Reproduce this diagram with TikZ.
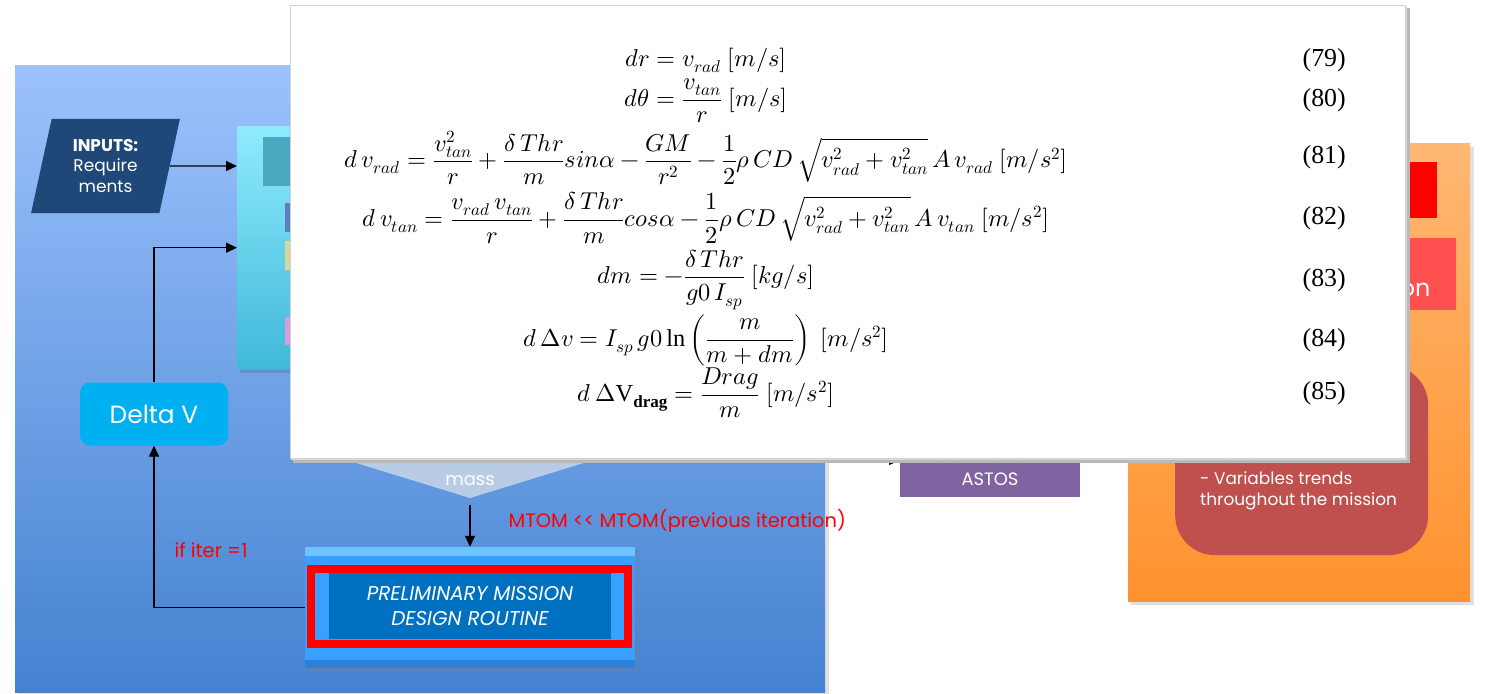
\documentclass[tikz,border=0pt]{standalone}
\usepackage{fontspec}
\usepackage{amsmath}
\usepackage{unicode-math}
\setmainfont{Poppins}
\setmathrm{Liberation Serif}
\newfontfamily\eqnumfont{Liberation Serif}
\usetikzlibrary{arrows.meta, positioning, shapes.geometric, shadows}
\definecolor{paneltop}{RGB}{156,194,253}
\definecolor{panelbot}{RGB}{68,130,208}
\definecolor{cyantop}{RGB}{143,235,252}
\definecolor{cyanbot}{RGB}{64,184,217}
\definecolor{navyin}{RGB}{31,71,120}
\definecolor{deltablue}{RGB}{0,176,240}
\definecolor{funnelgray}{RGB}{184,204,230}
\definecolor{pmdrlight}{RGB}{58,160,255}
\definecolor{pmdrdark}{RGB}{0,112,192}
\definecolor{astospurple}{RGB}{128,100,162}
\definecolor{orangetop}{RGB}{255,184,115}
\definecolor{orangebot}{RGB}{255,146,46}
\definecolor{coral}{RGB}{255,80,80}
\definecolor{brickred}{RGB}{192,80,77}

\tikzset{
  flowarrow/.style={draw=black, line width=1.4bp, -{Triangle[length=11bp,width=10bp]}},
  boxtext/.style={text=white, align=center, font=\fontsize{18}{22}\selectfont},
  redlabel/.style={text=red, font=\fontsize{19.5}{24}\selectfont},
  eqline/.style={anchor=center, inner sep=0pt, font=\fontsize{24.5}{28}\selectfont},
  eqnum/.style={anchor=east, inner sep=0pt, font=\eqnumfont\fontsize{26}{30}\selectfont},
  softshadow/.style={fill=black, opacity=0.12}
}

\begin{document}
\begin{tikzpicture}[x=1bp, y=-1bp]
\useasboundingbox (0,0) rectangle (1486,694);
\fill[white] (0,0) rectangle (1486,694);

% Left panel
\fill[softshadow] (18,70) rectangle (829,695);
\shade[top color=paneltop, bottom color=panelbot] (15,66) rectangle (825,692);

% Sizing block (mostly hidden)
\fill[softshadow] (240,130) rectangle (704,373);
\node[anchor=north west, minimum width=463bp, minimum height=243bp, inner sep=0pt,
      top color=cyantop, bottom color=cyanbot] (sizing) at (237,126) {};
\fill[fill={rgb,255:red,74;green,168;blue,192}] (263,137) rectangle (420,186);
\fill[fill={rgb,255:red,91;green,127;blue,191}] (285,203) rectangle (420,232);
\fill[fill={rgb,255:red,216;green,216;blue,150}] (285,241) rectangle (420,270);
\fill[fill={rgb,255:red,216;green,156;blue,216}] (285,317) rectangle (420,345);

% Inputs
\node[trapezium, trapezium left angle=77, trapezium right angle=103, trapezium stretches=true,
      fill=navyin, minimum width=149bp, minimum height=94bp, inner sep=0pt, boxtext,
      font=\fontsize{17}{21}\selectfont] (inputs) at (105.5,166)
  {\textbf{INPUTS:}\\Require\\ments};
\draw[flowarrow] (inputs) -- (inputs -| sizing.west);

% Delta V
\node[rounded corners=10bp, fill=deltablue, minimum width=148bp, minimum height=63bp,
      text=white, font=\fontsize{25}{30}\selectfont] (deltav) at (154,414) {Delta V};
\draw[flowarrow] (deltav.north) |- (sizing.west);

% Funnel (mostly hidden)
\fill[funnelgray] (298,445) -- (642,445) -- (470,498) -- cycle;
\coordinate (funnel) at (470,505);
\node[boxtext] (masstext) at (470,468) {the total\\mass};

% Preliminary mission design routine
\node[fill=pmdrlight, minimum width=330bp, minimum height=121bp, inner sep=0pt,
      drop shadow={opacity=0.3}] (pmdr) at (470,607.5) {};
\fill[fill={rgb,255:red,110;green,196;blue,255}] (305,547) rectangle (635,556);
\fill[fill={rgb,255:red,40;green,130;blue,220}] (305,660) rectangle (635,668);
\draw[red, line width=8bp] (311,569) rectangle (628,644);
\node[fill=pmdrdark, minimum width=282bp, minimum height=66bp, inner sep=0pt, boxtext,
      font=\fontsize{20}{26}\selectfont\itshape] (pmdrtext) at (470,606)
  {PRELIMINARY MISSION\\DESIGN ROUTINE};

\draw[flowarrow] (funnel) -- (pmdr.north);
\draw[flowarrow] (pmdr.west) -| (deltav.south);
\node[redlabel] (iterlabel) at (211,550) {if iter =1};
\node[redlabel, anchor=west] (mtomlabel) at (505,521) {MTOM <{}< MTOM(previous iteration)};

% ASTOS box (mostly hidden)
\node[anchor=south west, fill=astospurple, minimum width=180bp, minimum height=100bp,
      inner sep=0pt] (astos) at (900,497) {};
\node[boxtext] (astostext) at (990,468) {GO INPUTS IN\\ASTOS};
\coordinate (astosin) at (872,460);
\draw[flowarrow] (astosin) -- (astosin -| astos.west);

% Outputs panel
\fill[softshadow] (1131,147) rectangle (1474,605);
\shade[top color=orangetop, bottom color=orangebot] (1128,143) rectangle (1470,601);
\fill[red] (1200,162) rectangle (1437,218);
\fill[coral] (1200,238) rectangle (1456,310);
\node[anchor=east, text=white, font=\fontsize{24}{28}\selectfont] (simtext) at (1434,290) {on};
\node[anchor=north west, fill=brickred, rounded corners=40bp, minimum width=253bp,
      minimum height=190bp, inner sep=0pt] (results) at (1175,365) {};
\node[anchor=north west, text=white, align=left, inner sep=0pt,
      font=\fontsize{17}{21}\selectfont] (resultstext) at (1200,451)
  {- Delta V\\- Variables trends\\throughout the mission};

% Equations
\fill[fill=gray!55] (293,8) rectangle (1410,463);
\fill[fill=gray!30] (291,6) rectangle (1407,460);
\node[anchor=north west, fill=white, draw=gray!35, line width=0.6bp, minimum width=1115bp,
      minimum height=453bp, inner sep=0pt] (eqbox) at (290,5) {};

\node[eqline] (eq79) at (706,60) {$dr = v_{rad}\ [m/s]$};
\node[eqline] (eq80) at (706,101) {$d\theta = \dfrac{v_{tan}}{r}\ [m/s]$};
\node[eqline] (eq81) at (706,158)
  {$d\,v_{rad} = \dfrac{v_{tan}^2}{r} + \dfrac{\delta\,Thr}{m} sin\alpha - \dfrac{GM}{r^2} - \dfrac{1}{2}\rho\,CD\,\sqrt{v_{rad}^2 + v_{tan}^2}\,A\,v_{rad}\ [m/s^2]$};
\node[eqline] (eq82) at (706,218)
  {$d\,v_{tan} = \dfrac{v_{rad}\,v_{tan}}{r} + \dfrac{\delta\,Thr}{m} cos\alpha - \dfrac{1}{2}\rho\,CD\,\sqrt{v_{rad}^2 + v_{tan}^2}\,A\,v_{tan}\ [m/s^2]$};
\node[eqline] (eq83) at (706,280) {$dm = -\dfrac{\delta\,Thr}{g0\,I_{sp}}\ [kg/s]$};
\node[eqline] (eq84) at (706,340) {$d\,\Delta v = I_{sp}\,g0\ln\left(\dfrac{m}{m+dm}\right)\ [m/s^2]$};
\node[eqline] (eq85) at (706,393) {$d\,\Delta\mathrm{V}_{\mathbf{drag}} = \dfrac{Drag}{m}\ [m/s^2]$};

\node[eqnum] (n79) at (1346,60) {(79)};
\node[eqnum] (n80) at (1346,100) {(80)};
\node[eqnum] (n81) at (1346,157) {(81)};
\node[eqnum] (n82) at (1346,218) {(82)};
\node[eqnum] (n83) at (1346,280) {(83)};
\node[eqnum] (n84) at (1346,340) {(84)};
\node[eqnum] (n85) at (1346,393) {(85)};
\end{tikzpicture}
\end{document}
